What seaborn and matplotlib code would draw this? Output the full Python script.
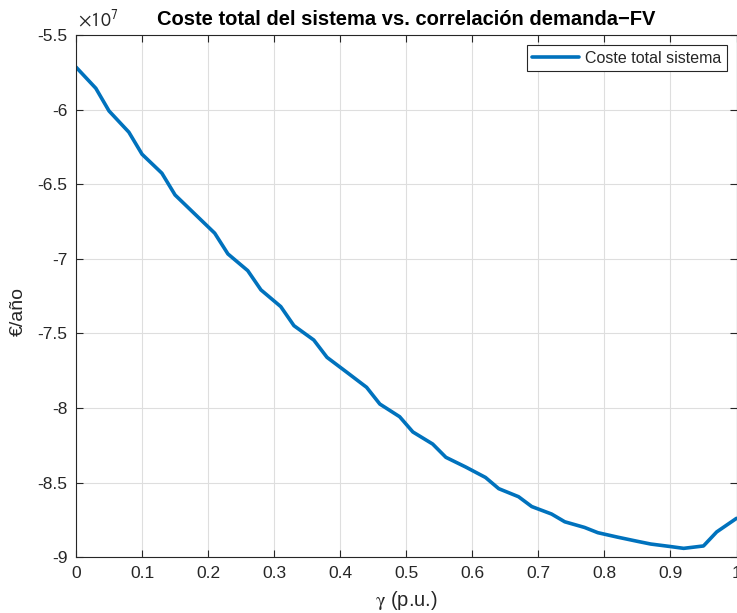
import numpy as np
import pandas as pd
import matplotlib
matplotlib.use("Agg")
import matplotlib.pyplot as plt
import seaborn as sns
from matplotlib.ticker import FixedLocator

# ---- data ----
gamma = [0.00, 0.03, 0.05, 0.08, 0.10, 0.13, 0.15, 0.18, 0.21, 0.23,
         0.26, 0.28, 0.31, 0.33, 0.36, 0.38, 0.41, 0.44, 0.46, 0.49,
         0.51, 0.54, 0.56, 0.59, 0.62, 0.64, 0.67, 0.69, 0.72, 0.74,
         0.77, 0.79, 0.82, 0.85, 0.87, 0.90, 0.92, 0.95, 0.97, 1.00]
coste_e7 = [-5.715, -5.857, -6.009, -6.151, -6.299, -6.426, -6.572, -6.700, -6.828, -6.967,
            -7.079, -7.208, -7.320, -7.448, -7.544, -7.660, -7.760, -7.861, -7.973, -8.058,
            -8.160, -8.241, -8.330, -8.395, -8.465, -8.540, -8.594, -8.660, -8.710, -8.762,
            -8.800, -8.835, -8.865, -8.893, -8.911, -8.928, -8.940, -8.924, -8.830, -8.739]
coste = [v * 1e7 for v in coste_e7]
xticks = [0, 0.1, 0.2, 0.3, 0.4, 0.5, 0.6, 0.7, 0.8, 0.9, 1]
xticklabels = ["0", "0.1", "0.2", "0.3", "0.4", "0.5", "0.6", "0.7", "0.8", "0.9", "1"]
yticks_e7 = [-9, -8.5, -8, -7.5, -7, -6.5, -6, -5.5]
yticklabels = ["-9", "-8.5", "-8", "-7.5", "-7", "-6.5", "-6", "-5.5"]
serie = "Coste total sistema"

df = pd.DataFrame({"gamma": gamma, "coste": coste, "serie": serie})

sns.set_theme(style="whitegrid")
plt.rcParams["font.family"] = ["Liberation Sans", "DejaVu Sans"]
plt.rcParams["mathtext.fontset"] = "stix"

axc = "#262626"
fig = plt.figure(figsize=(7.37, 6.13), dpi=100)
fig.patch.set_facecolor("white")
ax = fig.add_axes([76/737, 1 - 557.3/613, 660.5/737, (557.3 - 35)/613])
ax.set_facecolor("white")

sns.lineplot(data=df, x="gamma", y="coste", hue="serie", palette=["#0072BD"],
             linewidth=2.6, ax=ax, legend=True)

ax.set_xlim(0, 1)
ax.set_ylim(-9e7, -5.5e7)
ax.xaxis.set_major_locator(FixedLocator(xticks))
ax.set_xticklabels(xticklabels)
ax.yaxis.set_major_locator(FixedLocator([v * 1e7 for v in yticks_e7]))
ax.set_yticklabels(yticklabels)

ax.grid(True, color="#dedede", linewidth=0.8)
for s in ax.spines.values():
    s.set_visible(True)
    s.set_color(axc)
    s.set_linewidth(0.8)
ax.tick_params(axis="both", which="both", direction="in", length=5, width=0.8,
               colors=axc, labelsize=12.5, top=True, right=True,
               bottom=True, left=True, pad=6)
for lab in ax.get_xticklabels() + ax.get_yticklabels():
    lab.set_color(axc)

ax.set_xlabel(r"$\mathrm{\gamma}$ (p.u.)", fontsize=14.5, color=axc, labelpad=6)
ax.set_ylabel("€/año", fontsize=14, color=axc)
ax.yaxis.set_label_coords(-0.074, 0.47)
ax.set_title("Coste total del sistema vs. correlación demanda\u2212FV",
             fontsize=14.5, fontweight="bold", color="black", pad=7)

fig.text(78/737, 1 - 31/613, r"$\times\mathsf{10}^{\mathsf{7}}$", fontsize=14, color=axc,
         ha="left", va="bottom")

leg = ax.legend(loc="upper right", frameon=True, fontsize=11.5,
                handlelength=2.9, borderpad=0.35, handletextpad=0.4,
                borderaxespad=0, bbox_to_anchor=(0.9856, 0.981), fancybox=False)
leg.get_frame().set_edgecolor(axc)
leg.get_frame().set_linewidth(0.8)
leg.get_frame().set_alpha(1)

fig.savefig("out.png", dpi=100, facecolor="white")
